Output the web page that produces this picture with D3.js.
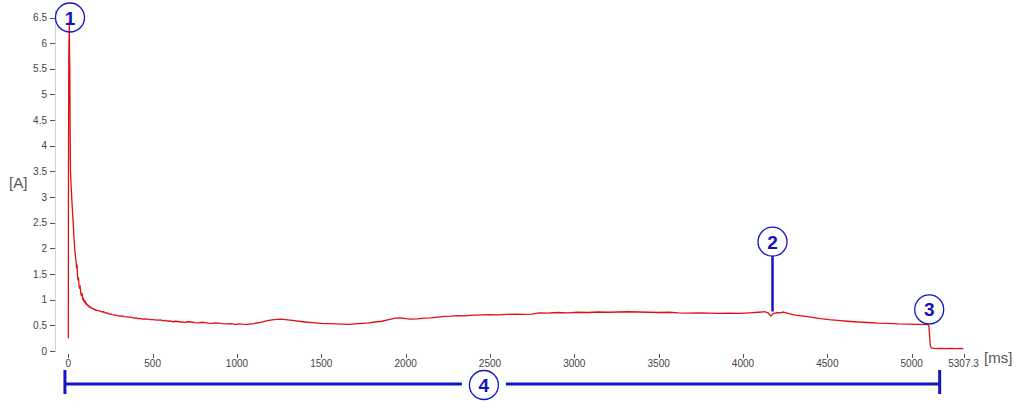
<!DOCTYPE html>
<html>
<head>
<meta charset="utf-8">
<script src="https://cdn.jsdelivr.net/npm/d3@7"></script>
<style>
  html, body { margin: 0; padding: 0; background: #fff; }
  svg { display: block; }
  .tick-label { font-family: "Liberation Sans", Arial, sans-serif; font-size: 10px; fill: #444; }
  .unit { font-family: "Liberation Sans", Arial, sans-serif; font-size: 15px; fill: #555; }
  .marker-text { font-family: "Liberation Sans", Arial, sans-serif; font-size: 19px; font-weight: bold; fill: #1414b4; }
</style>
</head>
<body>
<svg id="chart" width="1024" height="409"></svg>
<script>
// time [ms] and current [A]
var timeMs = [0, 1, 3, 6, 8, 9, 11, 13, 17, 21, 26, 30, 34, 38, 42, 46, 49, 52, 55, 58, 61, 63, 67, 70,
  74, 78, 82, 86, 89, 92, 96, 99, 103, 106, 110, 115, 120, 125, 131, 138, 144, 150, 157, 165, 173,
  182, 191, 200, 210, 220, 230, 240, 250, 257, 268, 280, 292, 305, 318, 330, 345, 360, 375, 390, 402,
  413, 426, 440, 455, 470, 485, 500, 515, 530, 545, 560, 575, 590, 605, 620, 635, 650, 670, 690,
  710, 730, 750, 770, 790, 810, 830, 850, 870, 890, 915, 940, 965, 990, 1010, 1030,
  1060, 1100, 1140, 1180, 1220, 1260, 1300, 1340, 1380, 1420, 1460, 1500, 1540, 1580, 1620, 1660,
  1700, 1740, 1780, 1820, 1860, 1900, 1940, 1970, 2000, 2030, 2070, 2110, 2150, 2190, 2230, 2270,
  2310, 2350, 2400, 2450, 2500, 2550, 2600, 2650, 2700, 2750, 2790, 2840, 2900, 2960, 3020, 3080,
  3140, 3200, 3260, 3320, 3380, 3440, 3500, 3560, 3620, 3680, 3740, 3800, 3860, 3920, 3980, 4040,
  4090, 4130, 4150, 4165, 4180, 4200, 4220, 4240, 4270, 4310, 4360, 4410, 4460, 4510, 4560, 4620,
  4680, 4740, 4800, 4860, 4920, 4980, 5040, 5095, 5102, 5110, 5116, 5130, 5150, 5170, 5200, 5230,
  5260, 5290, 5307];
var currentA = [0.25, 3.3, 5.7, 6.42, 5.7, 5.5, 4.2, 3.5, 3.2, 2.95, 2.65, 2.43, 2.2, 2.0, 1.85, 1.75,
  1.62, 1.68, 1.45, 1.38, 1.42, 1.28, 1.22, 1.27, 1.12, 1.08, 1.12, 1.0, 1.03, 0.97, 0.99, 0.94, 0.96,
  0.91, 0.92, 0.88, 0.89, 0.85, 0.86, 0.83, 0.835, 0.81, 0.815, 0.79, 0.795, 0.78, 0.775, 0.76, 0.765,
  0.74, 0.745, 0.72, 0.725, 0.71, 0.705, 0.70, 0.69, 0.68, 0.685, 0.67, 0.665, 0.66, 0.655, 0.64,
  0.645, 0.63, 0.635, 0.62, 0.625, 0.62, 0.61, 0.61, 0.605, 0.60, 0.605, 0.59, 0.595, 0.58, 0.585,
  0.57, 0.58, 0.575, 0.565, 0.56, 0.57, 0.565, 0.555, 0.55, 0.56, 0.555, 0.545, 0.54, 0.55, 0.545,
  0.535, 0.53, 0.535, 0.52, 0.53, 0.525,
  0.52, 0.535, 0.56, 0.59, 0.61, 0.62, 0.605, 0.59, 0.575, 0.56, 0.55, 0.54, 0.535, 0.53, 0.525,
  0.52, 0.53, 0.54, 0.55, 0.565, 0.58, 0.61, 0.64, 0.645, 0.63, 0.62, 0.625, 0.64, 0.645, 0.66,
  0.675, 0.68, 0.69, 0.685, 0.70, 0.705, 0.71, 0.705, 0.715, 0.72, 0.715, 0.72, 0.745, 0.74, 0.75,
  0.745, 0.755, 0.75, 0.76, 0.755, 0.76, 0.765, 0.76, 0.755, 0.75, 0.755, 0.745, 0.74, 0.745, 0.74,
  0.735, 0.74, 0.735, 0.745, 0.755, 0.765, 0.74, 0.68, 0.73, 0.75, 0.745, 0.76, 0.73, 0.70, 0.68,
  0.655, 0.63, 0.61, 0.595, 0.58, 0.565, 0.555, 0.545, 0.54, 0.53, 0.525, 0.52, 0.515, 0.50, 0.12,
  0.06, 0.05, 0.045, 0.05, 0.045, 0.05, 0.045, 0.05, 0.045];

var yTicks = [0, 0.5, 1, 1.5, 2, 2.5, 3, 3.5, 4, 4.5, 5, 5.5, 6, 6.5];
var xTicks = [0, 500, 1000, 1500, 2000, 2500, 3000, 3500, 4000, 4500, 5000, 5307.3];

// numbered call-outs: [label, time, current]
var markers = [["1", 10, 6.5], ["2", 4175, 2.13], ["3", 5104, 0.81]];
var bracket = { from: -20, to: 5166, label: "4", labelAt: 2464 };

var svg = d3.select("#chart");
var x = d3.scaleLinear().domain([0, 5307.3]).range([68.3, 963.5]);
var y = d3.scaleLinear().domain([0, 6.5]).range([351, 17.5]);

// y axis
var yAxis = svg.append("g");
yAxis.append("line")
  .attr("x1", 55.5).attr("x2", 55.5)
  .attr("y1", 10).attr("y2", y(0) + 1)
  .attr("stroke", "#d0d0d0").attr("stroke-width", 1);
yAxis.selectAll("line.tick").data(yTicks).enter().append("line")
  .attr("class", "tick")
  .attr("x1", 50).attr("x2", 55)
  .attr("y1", function(d) { return Math.round(y(d)) + 0.5; })
  .attr("y2", function(d) { return Math.round(y(d)) + 0.5; })
  .attr("stroke", "#555");
yAxis.selectAll("text").data(yTicks).enter().append("text")
  .attr("class", "tick-label")
  .attr("x", 47).attr("y", function(d) { return y(d) + 3.5; })
  .attr("text-anchor", "end")
  .text(function(d) { return d; });

// x axis (ticks only)
var xAxis = svg.append("g");
xAxis.selectAll("line").data(xTicks).enter().append("line")
  .attr("x1", function(d) { return Math.round(x(d)) + 0.5; })
  .attr("x2", function(d) { return Math.round(x(d)) + 0.5; })
  .attr("y1", 354).attr("y2", 358)
  .attr("stroke", "#555");
xAxis.selectAll("text").data(xTicks).enter().append("text")
  .attr("class", "tick-label")
  .attr("x", function(d) { return x(d); }).attr("y", 367)
  .attr("text-anchor", "middle")
  .text(function(d) { return d; });

svg.append("text").attr("class", "unit").attr("x", 984).attr("y", 363).text("[ms]");
svg.append("text").attr("class", "unit").attr("x", 9).attr("y", 188).text("[A]");

// current trace
var line = d3.line()
  .x(function(d, i) { return x(timeMs[i]); })
  .y(function(d) { return y(d); });
svg.append("path")
  .datum(currentA)
  .attr("d", line)
  .attr("fill", "none")
  .attr("stroke", "#e01010")
  .attr("stroke-width", 1.3)
  .attr("stroke-linejoin", "round");

var blue = "#1414c8";

// marker 2 stem
svg.append("line")
  .attr("x1", x(4175)).attr("x2", x(4175))
  .attr("y1", y(2.13) + 14.5).attr("y2", y(0.77))
  .attr("stroke", blue).attr("stroke-width", 2.5);

// bracket 4
var by = 384;
var bl = x(bracket.from), br = x(bracket.to), bc = x(bracket.labelAt);
svg.append("line").attr("x1", bl).attr("x2", bc - 22).attr("y1", by).attr("y2", by)
  .attr("stroke", blue).attr("stroke-width", 3);
svg.append("line").attr("x1", bc + 22).attr("x2", br).attr("y1", by).attr("y2", by)
  .attr("stroke", blue).attr("stroke-width", 3);
[bl, br].forEach(function(px) {
  svg.append("line").attr("x1", px).attr("x2", px).attr("y1", 370).attr("y2", 394)
    .attr("stroke", blue).attr("stroke-width", 3);
});

function callout(label, cx, cy) {
  var g = svg.append("g");
  g.append("circle").attr("cx", cx).attr("cy", cy).attr("r", 14.5)
    .attr("fill", "none").attr("stroke", blue).attr("stroke-width", 1.3);
  g.append("text").attr("class", "marker-text")
    .attr("x", cx).attr("y", cy + 7)
    .attr("text-anchor", "middle")
    .text(label);
}

markers.forEach(function(m) { callout(m[0], x(m[1]), y(m[2])); });
callout(bracket.label, bc, by + 1);
</script>
</body>
</html>
